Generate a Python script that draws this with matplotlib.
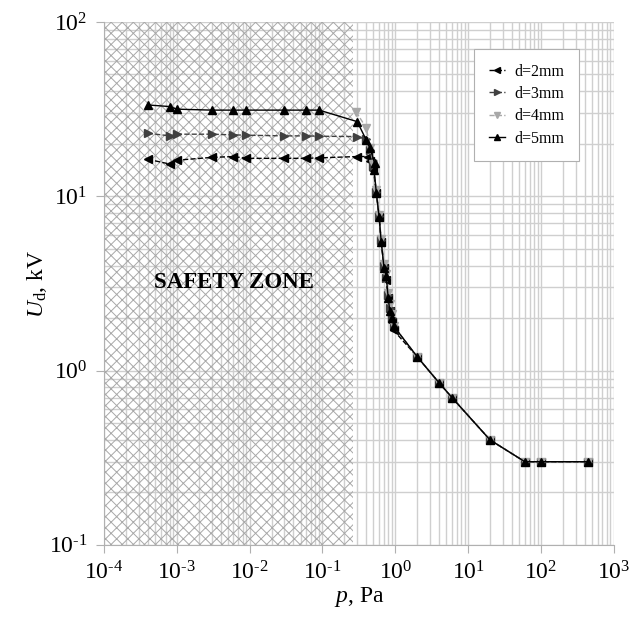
import matplotlib
matplotlib.use('Agg')
from matplotlib import pyplot as plt
from matplotlib.ticker import LogLocator, FuncFormatter
import numpy as np

plt.rcParams['font.family'] = 'Liberation Serif'
plt.rcParams['mathtext.fontset'] = 'custom'
plt.rcParams['mathtext.rm'] = 'Liberation Serif'
plt.rcParams['mathtext.it'] = 'Liberation Serif:italic'
plt.rcParams['hatch.linewidth'] = 0.7

# pressure p (Pa) and breakdown voltage Ud (kV) per gap
p_d2 = [4e-4, 8e-4, 1e-3, 3e-3, 6e-3, 9e-3, 0.03, 0.06, 0.09, 0.3, 0.42, 0.45, 0.5, 0.55, 0.6, 0.64, 0.7, 0.75, 0.8, 0.84, 0.9, 0.95, 2, 4, 6, 20, 60, 100, 440]
u_d2 = [16.3, 15.3, 16.1, 16.7, 16.9, 16.5, 16.5, 16.5, 16.6, 16.9, 16.9, 16.0, 14.2, 10.4, 7.6, 5.5, 3.9, 3.3, 2.6, 2.2, 1.9, 1.7, 1.2, 0.85, 0.70, 0.40, 0.30, 0.30, 0.30]
p_d3 = [4e-4, 8e-4, 1e-3, 3e-3, 6e-3, 9e-3, 0.03, 0.06, 0.09, 0.3, 0.4, 0.45, 0.5, 0.55, 0.6, 0.64, 0.7, 0.75, 0.8, 0.84, 0.9, 0.95, 2, 4, 6, 20, 60, 100, 440]
u_d3 = [23.0, 22.2, 22.7, 22.7, 22.5, 22.4, 22.2, 22.2, 22.1, 22.0, 21.2, 18.5, 15.0, 10.6, 7.7, 5.6, 4.0, 3.4, 2.7, 2.3, 2.0, 1.8, 1.2, 0.85, 0.70, 0.40, 0.30, 0.30, 0.30]
p_d4 = [0.29, 0.4, 0.45, 0.5, 0.55, 0.6, 0.64, 0.7, 0.75, 0.8, 0.84, 0.9, 0.95, 2, 4, 6, 20, 60, 100, 440]
u_d4 = [30.5, 24.6, 19.0, 15.3, 10.8, 7.8, 5.7, 4.1, 3.6, 2.8, 2.4, 2.1, 1.8, 1.2, 0.85, 0.70, 0.40, 0.30, 0.30, 0.30]
p_d5 = [4e-4, 8e-4, 1e-3, 3e-3, 6e-3, 9e-3, 0.03, 0.06, 0.09, 0.3, 0.4, 0.45, 0.52, 0.51, 0.55, 0.6, 0.64, 0.7, 0.75, 0.8, 0.84, 0.9, 0.95, 2, 4, 6, 20, 60, 100, 440]
u_d5 = [33.4, 32.7, 31.6, 31.2, 31.2, 31.2, 31.2, 31.2, 31.2, 26.8, 21.0, 18.8, 15.5, 14.2, 10.4, 7.6, 5.5, 3.9, 3.5, 2.6, 2.2, 2.0, 1.8, 1.2, 0.85, 0.70, 0.40, 0.30, 0.30, 0.30]

safe_lo, safe_hi = 1e-4, 0.26

fig = plt.figure(figsize=(6.4, 6.27), dpi=100)
ax = fig.add_axes([0.1625, 0.131, 0.7965, 0.834])

ax.axvspan(safe_lo, safe_hi, facecolor='none', edgecolor='#a8a8a8', hatch='xxx', linewidth=0, zorder=1)

ax.plot(p_d2, u_d2, '--', color='black', marker='<', ms=6, lw=1, label='d=2mm', zorder=3)
ax.plot(p_d3, u_d3, '--', color='#404040', marker='>', ms=6, lw=1, label='d=3mm', zorder=3)
ax.plot(p_d4, u_d4, '--', color='#a8a8a8', marker='v', ms=6, lw=1, label='d=4mm', zorder=3)
ax.plot(p_d5, u_d5, '-', color='black', marker='^', ms=6, lw=1, label='d=5mm', zorder=4)

ax.set_xscale('log')
ax.set_yscale('log')
ax.set_xlim(1e-4, 1e3)
ax.set_ylim(0.1, 100)

ax.xaxis.set_major_locator(LogLocator(base=10, numticks=20))
ax.xaxis.set_minor_locator(LogLocator(base=10, subs=np.arange(2, 10), numticks=20))
ax.yaxis.set_major_locator(LogLocator(base=10, numticks=20))
ax.yaxis.set_minor_locator(LogLocator(base=10, subs=np.arange(2, 10), numticks=20))


def pow_label(v, pos):
    e = int(round(np.log10(v)))
    if e < 0:
        return r'$\mathregular{10^{\text{-}%d}}$' % (-e)
    return r'$\mathregular{10^{%d}}$' % e


fmt = FuncFormatter(pow_label)
ax.xaxis.set_major_formatter(fmt)
ax.yaxis.set_major_formatter(fmt)
ax.tick_params(axis='both', which='major', labelsize=17, length=6, color='#b0b0b0', direction='out', pad=6)
ax.tick_params(axis='both', which='minor', length=0)

ax.grid(True, which='both', color='#cfcfcf', lw=1.0, zorder=0)
ax.set_axisbelow(True)
for s in ax.spines.values():
    s.set_visible(False)
ax.spines['left'].set_visible(True)
ax.spines['bottom'].set_visible(True)
ax.spines['left'].set_color('#b0b0b0')
ax.spines['bottom'].set_color('#b0b0b0')

ax.set_xlabel(r'$p$, Pa', fontsize=17, labelpad=0)
ax.set_ylabel(r'$U_{\mathrm{d}}$, kV', fontsize=17, labelpad=0)

ax.text(6.1e-3, 3.22, 'SAFETY ZONE', fontsize=16.5, fontweight='bold', ha='center', va='center', zorder=5)

leg = ax.legend(loc='upper right', bbox_to_anchor=(0.947, 0.963), fontsize=11.5, handlelength=1.0,
                handletextpad=0.6, frameon=True, fancybox=False, edgecolor='#b0b0b0', framealpha=1,
                borderpad=0.9, labelspacing=0.4, markerscale=0.8)
leg.get_frame().set_linewidth(0.8)

fig.savefig('out.png', dpi=100)
